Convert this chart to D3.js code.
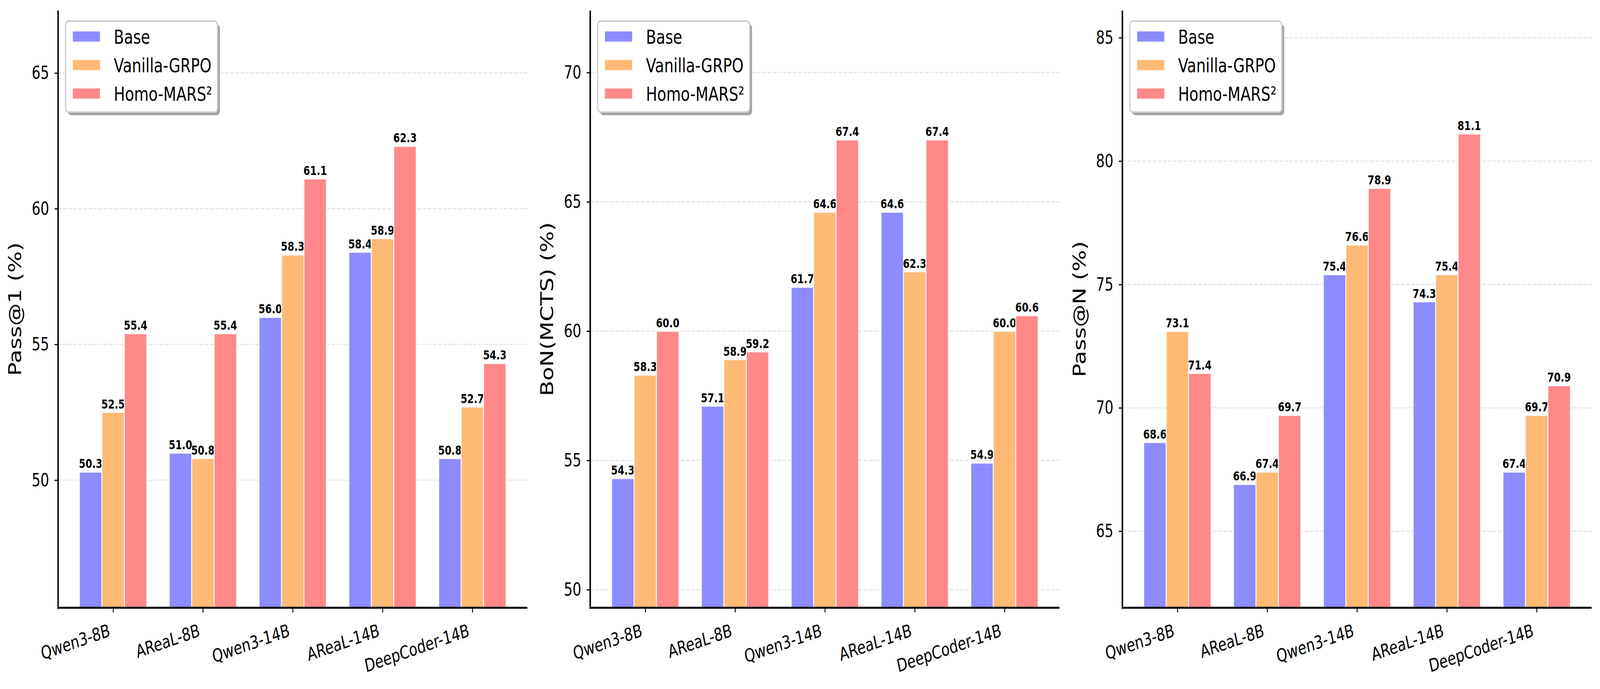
<!DOCTYPE html>
<html>
<head>
<meta charset="utf-8">
<script src="https://cdn.jsdelivr.net/npm/d3@7"></script>
<style>
  html, body { margin: 0; padding: 0; background: #fff; overflow: hidden; }
  svg { display: block; font-family: "DejaVu Sans", sans-serif; }
</style>
</head>
<body>
<div id="canvas"></div>
<script>
	const categories = ["Qwen3-8B", "AReaL-8B", "Qwen3-14B", "AReaL-14B", "DeepCoder-14B"];
	const series = ["Base", "Vanilla-GRPO", "Homo-MARS²"];
	const colors = ["#8c8cff", "#ffba75", "#ff8888"];

	// values per series, in category order
	const pass1 = [
		[50.3, 51.0, 56.0, 58.4, 50.8],
		[52.5, 50.8, 58.3, 58.9, 52.7],
		[55.4, 55.4, 61.1, 62.3, 54.3]
	];
	const bonMcts = [
		[54.3, 57.1, 61.7, 64.6, 54.9],
		[58.3, 58.9, 64.6, 62.3, 60.0],
		[60.0, 59.2, 67.4, 67.4, 60.6]
	];
	const passN = [
		[68.6, 66.9, 75.4, 74.3, 67.4],
		[73.1, 67.4, 76.6, 75.4, 69.7],
		[71.4, 69.7, 78.9, 81.1, 70.9]
	];

	const yLabels = ["Pass@1 (%)", "BoN(MCTS) (%)", "Pass@N (%)"];
	const yTicks = [
		[50, 55, 60, 65],
		[50, 55, 60, 65, 70],
		[65, 70, 75, 80, 85]
	];
	const panels = [pass1, bonMcts, passN];

	const W = 5370, H = 1764;
	const plotW = 1575, plotTop = 27, plotBottom = 1556;
	const panelLeft = [195, 1981, 3767];

	// drawn in 5370x1764 units, stretched to whatever the window is
	const svg = d3.select("#canvas").append("svg")
		.attr("viewBox", `0 0 ${W} ${H}`)
		.attr("preserveAspectRatio", "none")
		.style("width", "100vw")
		.style("height", "100vh");

	/*============= main ===============*/
	panels.forEach((data, i) => drawPanel(data, i));

	/*============= functions ===============*/
	function drawPanel(data, i) {
		const g = svg.append("g").attr("transform", `translate(${panelLeft[i]},0)`);

		const all = data.flat();
		const x = d3.scalePoint()
			.domain(categories)
			.range([0, plotW])
			.padding(0.6125);
		const step = x.step();
		const xs = d3.scaleBand()
			.domain(series)
			.range([-0.375 * step, 0.375 * step]);
		const y = d3.scaleLinear()
			.domain([d3.min(all) - 5, d3.max(all) + 5])
			.range([plotBottom, plotTop]);

		// grid
		g.append("g").selectAll("line")
			.data(yTicks[i])
			.enter().append("line")
			.attr("x1", 0).attr("x2", plotW)
			.attr("y1", d => y(d)).attr("y2", d => y(d))
			.attr("stroke", "#e4e4e4")
			.attr("stroke-width", 3)
			.attr("stroke-dasharray", "12,5");

		// bars
		series.forEach((s, si) => {
			const bars = g.append("g");
			bars.selectAll("rect")
				.data(categories)
				.enter().append("rect")
				.attr("x", c => x(c) + xs(s))
				.attr("width", xs.bandwidth())
				.attr("y", (c, ci) => y(data[si][ci]))
				.attr("height", (c, ci) => plotBottom - y(data[si][ci]))
				.attr("fill", colors[si])
				.attr("stroke", "#fcfbff")
				.attr("stroke-width", 3);
			bars.selectAll("text")
				.data(categories)
				.enter().append("text")
				.attr("x", c => x(c) + xs(s) + xs.bandwidth() / 2)
				.attr("y", (c, ci) => y(data[si][ci]) - 10)
				.attr("text-anchor", "middle")
				.attr("font-size", 32)
				.attr("font-weight", "bold")
				.text((c, ci) => data[si][ci].toFixed(1));
		});

		// axes
		const yAxis = d3.axisLeft(y)
			.tickValues(yTicks[i])
			.tickSize(12)
			.tickSizeOuter(0)
			.tickPadding(18);
		const gY = g.append("g").call(yAxis);
		gY.select(".domain").remove();
		gY.selectAll("line").attr("stroke-width", 3);
		gY.selectAll("text").attr("font-size", 46).attr("fill", "#000")
			.style("font-family", "DejaVu Sans");

		const xAxis = d3.axisBottom(x)
			.tickSize(12)
			.tickSizeOuter(0);
		const gX = g.append("g")
			.attr("transform", `translate(0,${plotBottom})`)
			.call(xAxis);
		gX.select(".domain").remove();
		gX.selectAll("line").attr("stroke-width", 3);
		gX.selectAll("text")
			.attr("font-size", 46).attr("fill", "#000")
			.style("font-family", "DejaVu Sans")
			.attr("y", 0).attr("dy", null)
			.attr("text-anchor", "end")
			.attr("transform", "translate(-8,72) rotate(-15)");

		// spines
		g.append("line")
			.attr("x1", 0).attr("x2", 0)
			.attr("y1", plotTop).attr("y2", plotBottom + 2.5)
			.attr("stroke", "#000").attr("stroke-width", 5);
		g.append("line")
			.attr("x1", -2.5).attr("x2", plotW)
			.attr("y1", plotBottom).attr("y2", plotBottom)
			.attr("stroke", "#000").attr("stroke-width", 5);

		// y label
		g.append("text")
			.attr("transform", `translate(-124,${(plotTop + plotBottom) / 2}) rotate(-90)`)
			.attr("text-anchor", "middle")
			.attr("font-size", 58)
			.text(yLabels[i]);

		drawLegend(g);
	}

	function drawLegend(g) {
		const lx = 25, ly = 54, lw = 510, lh = 233;
		const lg = g.append("g").attr("transform", `translate(${lx},${ly})`);
		lg.append("rect")
			.attr("x", 8).attr("y", 8)
			.attr("width", lw).attr("height", lh)
			.attr("rx", 10)
			.attr("fill", "#a3a3a3");
		lg.append("rect")
			.attr("width", lw).attr("height", lh)
			.attr("rx", 10)
			.attr("fill", "#fff")
			.attr("stroke", "#cccccc")
			.attr("stroke-width", 4);
		const item = lg.selectAll("g.item")
			.data(series)
			.enter().append("g")
			.attr("class", "item")
			.attr("transform", (d, k) => `translate(0,${40 + k * 73})`);
		item.append("rect")
			.attr("x", 23).attr("y", -15)
			.attr("width", 94).attr("height", 29)
			.attr("fill", (d, k) => colors[k])
			.attr("stroke", "#fcfbff")
			.attr("stroke-width", 3);
		item.append("text")
			.attr("x", 162)
			.attr("dy", "0.36em")
			.attr("font-size", 50)
			.text(d => d);
	}
</script>
</body>
</html>
